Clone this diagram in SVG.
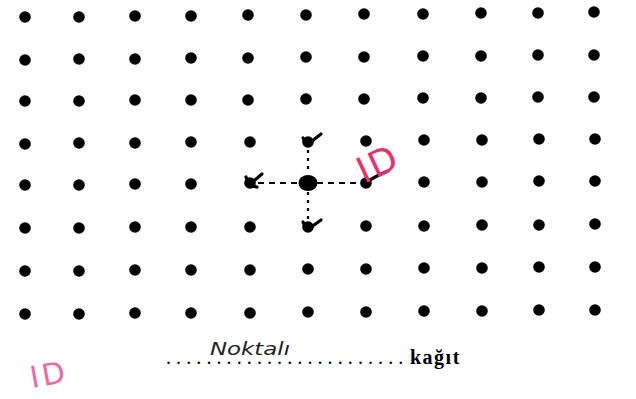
<svg xmlns="http://www.w3.org/2000/svg" width="636" height="399" viewBox="0 0 636 399">
<style>
.d{fill:#000}
.tick{fill:none;stroke:#000;stroke-width:3.2;stroke-linecap:round;stroke-linejoin:round}
.dash{fill:none;stroke:#000;stroke-width:2.2}
.pink{font-family:"DejaVu Sans",sans-serif;fill:#ee2f6e}
.lbl{font-family:"Liberation Serif",serif;font-size:20px;fill:#000}
</style>
<defs>
<circle id="dot" r="5.8"/>
</defs>
<rect width="636" height="399" fill="#fff"/>
<g id="grid" class="d">
<g id="row1">
<use href="#dot" x="25" y="17"/><use href="#dot" x="79" y="17"/><use href="#dot" x="135" y="16"/><use href="#dot" x="191" y="16"/><use href="#dot" x="248" y="15"/><use href="#dot" x="306" y="15"/><use href="#dot" x="364" y="14"/><use href="#dot" x="423" y="14"/><use href="#dot" x="481" y="13"/><use href="#dot" x="538" y="13"/><use href="#dot" x="594" y="12"/>
</g>
<g id="row2">
<use href="#dot" x="25" y="60"/><use href="#dot" x="79" y="59"/><use href="#dot" x="135" y="59"/><use href="#dot" x="191" y="58"/><use href="#dot" x="248" y="58"/><use href="#dot" x="306" y="57"/><use href="#dot" x="364" y="57"/><use href="#dot" x="423" y="56"/><use href="#dot" x="481" y="56"/><use href="#dot" x="538" y="55"/><use href="#dot" x="594" y="55"/>
</g>
<g id="row3">
<use href="#dot" x="25" y="101"/><use href="#dot" x="79" y="101"/><use href="#dot" x="135" y="100"/><use href="#dot" x="191" y="100"/><use href="#dot" x="248" y="100"/><use href="#dot" x="306" y="99"/><use href="#dot" x="364" y="99"/><use href="#dot" x="423" y="98"/><use href="#dot" x="481" y="98"/><use href="#dot" x="538" y="97"/><use href="#dot" x="594" y="97"/>
</g>
<g id="row4">
<use href="#dot" x="25" y="144"/><use href="#dot" x="79" y="143"/><use href="#dot" x="135" y="143"/><use href="#dot" x="191" y="142"/><use href="#dot" x="250" y="142"/><use href="#dot" x="308" y="142"/><use href="#dot" x="366" y="141"/><use href="#dot" x="424" y="140"/><use href="#dot" x="482" y="140"/><use href="#dot" x="539" y="139"/><use href="#dot" x="595" y="139"/>
</g>
<g id="row5">
<use href="#dot" x="25" y="185"/><use href="#dot" x="79" y="185"/><use href="#dot" x="135" y="184"/><use href="#dot" x="191" y="184"/><use href="#dot" x="250" y="183"/><use href="#dot" x="366" y="183"/><use href="#dot" x="424" y="182"/><use href="#dot" x="482" y="182"/><use href="#dot" x="539" y="181"/><use href="#dot" x="595" y="181"/>
</g>
<g id="row6">
<use href="#dot" x="25" y="228"/><use href="#dot" x="79" y="228"/><use href="#dot" x="135" y="227"/><use href="#dot" x="191" y="227"/><use href="#dot" x="250" y="227"/><use href="#dot" x="308" y="227"/><use href="#dot" x="366" y="226"/><use href="#dot" x="424" y="226"/><use href="#dot" x="482" y="225"/><use href="#dot" x="539" y="225"/><use href="#dot" x="595" y="224"/>
</g>
<g id="row7">
<use href="#dot" x="25" y="271"/><use href="#dot" x="79" y="271"/><use href="#dot" x="135" y="270"/><use href="#dot" x="191" y="270"/><use href="#dot" x="250" y="270"/><use href="#dot" x="308" y="269"/><use href="#dot" x="366" y="269"/><use href="#dot" x="424" y="268"/><use href="#dot" x="482" y="268"/><use href="#dot" x="539" y="267"/><use href="#dot" x="595" y="267"/>
</g>
<g id="row8">
<use href="#dot" x="25" y="314"/><use href="#dot" x="79" y="314"/><use href="#dot" x="135" y="313"/><use href="#dot" x="191" y="313"/><use href="#dot" x="250" y="313"/><use href="#dot" x="308" y="312"/><use href="#dot" x="366" y="312"/><use href="#dot" x="424" y="311"/><use href="#dot" x="482" y="311"/><use href="#dot" x="539" y="310"/><use href="#dot" x="595" y="310"/>
</g>
</g>
<g id="center">
<ellipse cx="308" cy="183" rx="9.5" ry="8" fill="#000"/>
</g>
<g id="connectors">
<path class="dash" d="M258 183 H299 M317 183 H358" stroke-dasharray="6 5"/>
<path class="dash" d="M308 150 V174 M308 192 V219" stroke-dasharray="3 5"/>
</g>
<g id="ticks">
<path class="tick" d="M303 138 L307 145 L321 134"/>
<path class="tick" d="M246 177 L249 185 L262 174 M249 185 L257 187"/>
<path class="tick" d="M363 185 Q373 177 388 171"/>
<path class="tick" d="M303 222 L307 230 L321 220"/>
</g>
<g id="mark-top">
<text class="pink" x="0" y="0" font-size="36" letter-spacing="2" transform="translate(364 184) rotate(-25)">ID</text>
</g>
<g id="caption">
<text class="lbl" x="166" y="364" letter-spacing="5.1">........................</text>
<text class="lbl" x="410" y="364" font-size="22" font-weight="bold" letter-spacing="1.5">kağıt</text>
<text x="210" y="355" font-family="DejaVu Sans,sans-serif" font-style="italic" font-size="17" fill="#222" textLength="80" lengthAdjust="spacingAndGlyphs">Noktalı</text>
</g>
<g id="mark-bottom">
<text x="0" y="0" font-family="DejaVu Sans,sans-serif" font-size="30" fill="#f066a8" letter-spacing="3" transform="translate(32 388) rotate(-10)">ID</text>
</g>
</svg>
